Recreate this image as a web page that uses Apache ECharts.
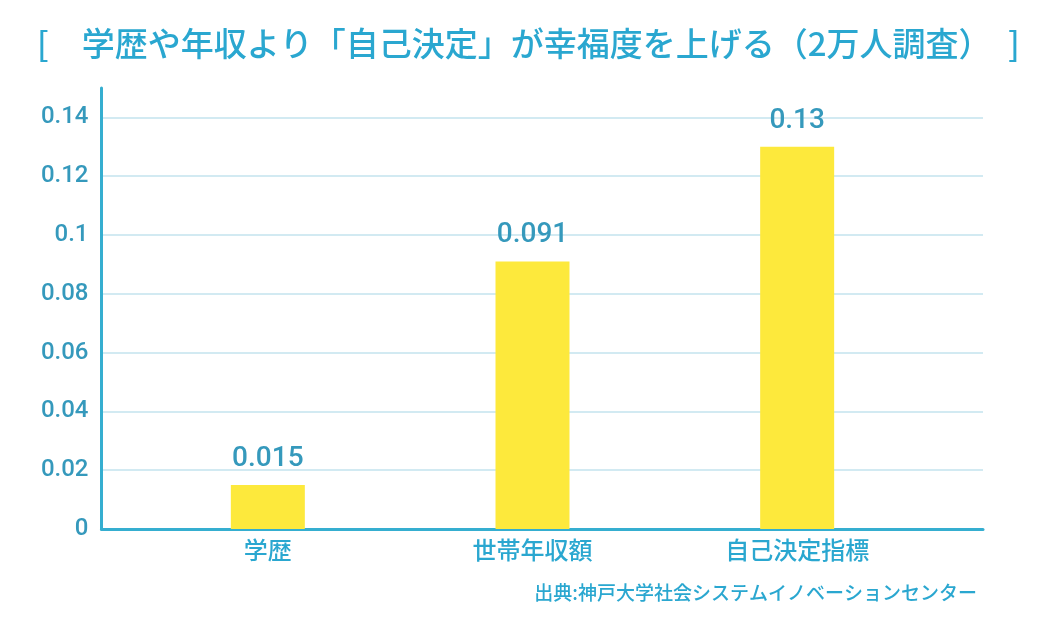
<!DOCTYPE html>
<html>
<head>
<meta charset="utf-8">
<script src="https://cdn.jsdelivr.net/npm/echarts@6/dist/echarts.min.js"></script>
<style>
html,body{margin:0;padding:0;background:#fff;}
#chart{width:1040px;height:617px;}
</style>
</head>
<body>
<div id="chart"></div>
<script>
var titleText = '[　学歴や年収より「自己決定」が幸福度を上げる（2万人調査）　]';
var sourceText = '出典:神戸大学社会システムイノベーションセンター';
var categories = ['学歴', '世帯年収額', '自己決定指標'];
var values = [0.015, 0.091, 0.13];
var yMin = 0, yMax = 0.15, yInterval = 0.02;

var labelColor = '#3599bc';
var chart = echarts.init(document.getElementById('chart'));
chart.setOption({
  backgroundColor: '#ffffff',
  animation: false,
  title: [
    { text: titleText, left: 32, top: 22,
      textStyle: { color: '#2aa7d0', fontSize: 33, fontWeight: 500, fontFamily: '"Noto Sans CJK JP", sans-serif' } },
    { text: sourceText, right: 58, top: 578,
      textStyle: { color: '#2aa7d0', fontSize: 19, fontWeight: 500, fontFamily: '"Noto Sans CJK JP", sans-serif' } }
  ],
  grid: [
    { left: 101.5, right: 57, top: 88, bottom: 88 },
    { left: 135.5, right: 110.5, top: 88, bottom: 88 }
  ],
  xAxis: [
    { type: 'value', gridIndex: 0, min: 0, max: 1,
      axisLine: { show: true, onZero: false, lineStyle: { color: '#35aed0', width: 3 } },
      axisTick: { show: false }, axisLabel: { show: false }, splitLine: { show: false } },
    { type: 'category', gridIndex: 1, data: categories,
      axisLine: { show: false }, axisTick: { show: false },
      axisLabel: { color: '#2aa7d0', fontSize: 24, fontWeight: 500, margin: 9, fontFamily: '"Noto Sans CJK JP", sans-serif' } }
  ],
  yAxis: [
    { type: 'value', gridIndex: 0, min: yMin, max: yMax, interval: yInterval,
      axisLine: { show: true, lineStyle: { color: '#35aed0', width: 3 } },
      axisTick: { show: false },
      axisLabel: { color: labelColor, fontSize: 24, fontWeight: 500, margin: 13, showMaxLabel: false, fontFamily: 'Roboto, sans-serif' },
      splitLine: { show: true, showMaxLine: false, lineStyle: { color: '#c3e3ee', width: 1.5 } } },
    { type: 'value', gridIndex: 1, min: yMin, max: yMax, interval: yInterval, show: false,
      splitLine: { show: false } }
  ],
  series: [
    { type: 'bar', xAxisIndex: 1, yAxisIndex: 1, data: values, barWidth: 74,
      itemStyle: { color: '#fde93c' },
      label: { show: true, position: 'top', distance: 12, color: labelColor, fontSize: 28, fontWeight: 500,
        fontFamily: 'Roboto, sans-serif' } }
  ]
});
</script>
</body>
</html>
